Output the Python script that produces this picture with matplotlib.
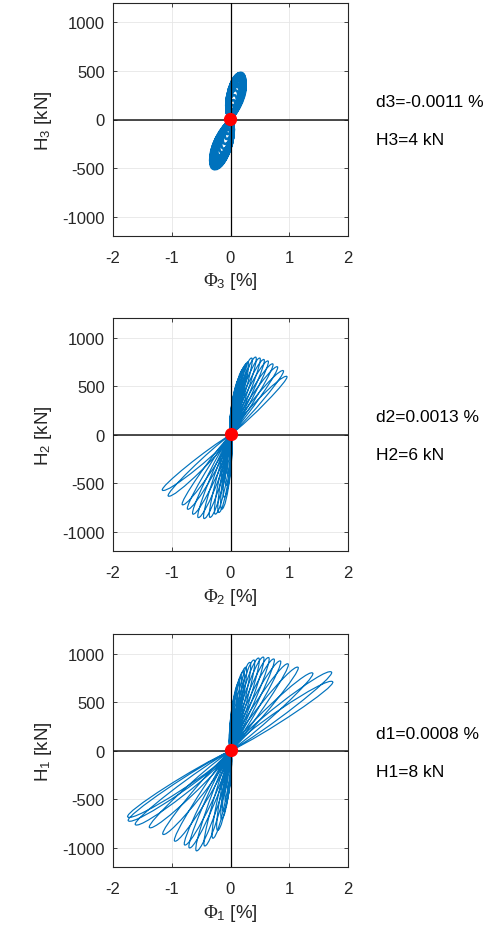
import numpy as np
import matplotlib
matplotlib.use('Agg')
import matplotlib.pyplot as plt
from matplotlib.path import Path
from matplotlib.patches import PathPatch

plt.rcParams['font.family'] = ['Liberation Sans', 'DejaVu Sans']
plt.rcParams['mathtext.fontset'] = 'custom'
plt.rcParams['mathtext.rm'] = 'Liberation Serif'
plt.rcParams['mathtext.it'] = 'Liberation Serif:italic'
plt.rcParams['mathtext.sf'] = 'Liberation Sans'
plt.rcParams['axes.unicode_minus'] = False

# peak drift [%] / peak shear [kN] of each loop, story 3 (top) to story 1
phi3_pos = [0.02, 0.03, 0.04, 0.05, 0.07, 0.09, 0.11, 0.12, 0.14, 0.15, 0.16, 0.17, 0.18, 0.19, 0.20, 0.21, 0.22]
H3_pos = [70, 110, 150, 200, 250, 300, 340, 370, 400, 420, 440, 460, 475, 480, 460, 420, 380]
phi3_neg = [-0.02, -0.03, -0.05, -0.07, -0.10, -0.12, -0.15, -0.18, -0.20, -0.22, -0.24, -0.26, -0.28, -0.29, -0.30, -0.30, -0.29]
H3_neg = [-70, -110, -150, -200, -250, -300, -340, -380, -410, -440, -460, -480, -500, -510, -480, -430, -390]

phi2_pos = [0.08, 0.12, 0.15, 0.18, 0.21, 0.24, 0.27, 0.30, 0.36, 0.43, 0.50, 0.57, 0.64, 0.72, 0.80, 0.90, 0.96]
H2_pos = [420, 520, 580, 620, 670, 700, 730, 750, 790, 800, 790, 775, 760, 730, 700, 660, 600]
phi2_neg = [-0.05, -0.08, -0.11, -0.15, -0.20, -0.26, -0.35, -0.45, -0.55, -0.64, -0.73, -0.82, -1.06, -1.16]
H2_neg = [-400, -520, -640, -766, -800, -817, -850, -862, -852, -817, -766, -720, -630, -570]

phi1_pos = [0.06, 0.10, 0.14, 0.18, 0.22, 0.26, 0.33, 0.40, 0.48, 0.56, 0.65, 0.74, 0.85, 0.98, 1.15, 1.40, 1.72, 1.74]
H1_pos = [450, 600, 700, 760, 820, 860, 910, 935, 955, 965, 960, 945, 925, 895, 860, 800, 810, 710]
phi1_neg = [-0.05, -0.08, -0.12, -0.15, -0.22, -0.30, -0.44, -0.58, -0.70, -0.78, -0.95, -1.15, -1.38, -1.62, -1.74, -1.75]
H1_neg = [-400, -520, -620, -700, -820, -900, -980, -1030, -1000, -970, -930, -860, -790, -760, -720, -680]

# current state of each story
d_now = [-0.0011, 0.0013, 0.0008]
H_now = [4, 6, 8]
stories = [3, 2, 1]

XR, YR = 4.0, 2400.0
blue = '#0072BD'
gray = '#262626'


def petal_path(xs, ys, a, b):
    verts, codes = [], []
    for xt, yt in zip(xs, ys):
        e = np.array([xt / XR, yt / YR])
        n = np.array([-e[1], e[0]])

        def p(u, v):
            q = u * e + v * n
            return (q[0] * XR, q[1] * YR)

        # loading branch on the stiff side, unloading branch back to the origin
        verts += [p(0, 0), p(0.1, 1.2 * a), p(1.0, 1.2 * a), p(1, 0),
                  p(1.0, -1.2 * b), p(0.3, -1.2 * b), p(0, 0)]
        codes += [Path.MOVETO] + [Path.CURVE4] * 6
    return Path(verts, codes)


loops = [
    (phi3_pos, H3_pos, phi3_neg, H3_neg, 0.2, 0.15, 1.8),
    (phi2_pos, H2_pos, phi2_neg, H2_neg, 0.065, 0.04, 0.85),
    (phi1_pos, H1_pos, phi1_neg, H1_neg, 0.06, 0.04, 0.85),
]
bottoms = [1 - 237 / 929, 1 - 552.3 / 929, 1 - 868.3 / 929]
text_y = [(103, 141), (417, 456), (735, 773)]

fig = plt.figure(figsize=(5.01, 9.29), dpi=100)

for k in range(3):
    ax = fig.add_axes([113 / 501, bottoms[k], 235 / 501, 233 / 929])
    xp, yp, xn, yn, a, b, lw = loops[k]
    for xs, ys in [(xp, yp), (xn, yn)]:
        ax.add_patch(PathPatch(petal_path(xs, ys, a, b), facecolor='none',
                               edgecolor=blue, lw=lw, zorder=2))
    ax.axhline(0, color='#1a1a1a', lw=1.1, zorder=3)
    ax.axvline(0, color='black', lw=0.9, zorder=3)
    ax.plot(d_now[k], H_now[k], 'o', color='red', ms=8.5, zorder=4)

    ax.set_xlim(-2, 2)
    ax.set_ylim(-1200, 1200)
    ax.set_xticks([-2, -1, 0, 1, 2])
    ax.set_yticks([-1000, -500, 0, 500, 1000])
    ax.grid(True, color='#e6e6e6', lw=0.6, zorder=0)
    ax.set_axisbelow(True)
    for s in ax.spines.values():
        s.set_color(gray)
        s.set_linewidth(0.8)
    ax.tick_params(direction='in', length=3, width=0.6, colors=gray,
                   labelsize=12, top=True, right=True)
    ax.tick_params(axis='x', pad=10)
    ax.tick_params(axis='y', pad=6)

    i = stories[k]
    ax.set_xlabel(r'$\Phi_{\mathsf{%d}}$ [%%]' % i, fontsize=13.5, color=gray, labelpad=4)
    ax.set_ylabel(r'H$_{\mathsf{%d}}$ [kN]' % i, fontsize=13.5, color=gray, labelpad=6)

    fig.text(376 / 501, 1 - text_y[k][0] / 929, f'd{i}={d_now[k]:g} %',
             fontsize=12.5, va='center', ha='left')
    fig.text(376 / 501, 1 - text_y[k][1] / 929, f'H{i}={H_now[k]:g} kN',
             fontsize=12.5, va='center', ha='left')

fig.savefig('out.png', dpi=100)
